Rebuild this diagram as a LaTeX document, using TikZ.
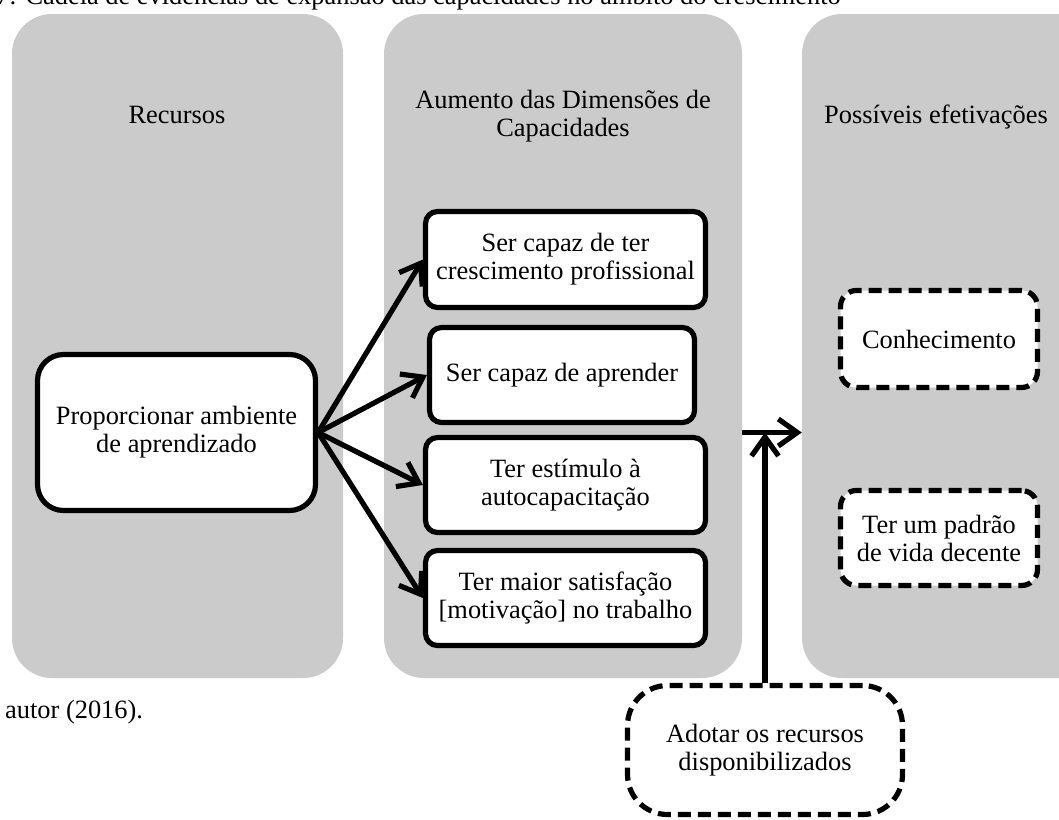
\documentclass[tikz,border=0pt]{standalone}
\usepackage{fontspec}
\setmainfont{Liberation Serif}
\usetikzlibrary{arrows.meta,calc}
\definecolor{panelgray}{RGB}{203,203,203}
\begin{document}
\begin{tikzpicture}[x=1pt,y=-1pt,
  every node/.style={font=\fontsize{26.4pt}{28pt}\selectfont, align=center, inner sep=0pt},
  panel/.style={fill=panelgray, rounded corners=40pt, minimum height=664pt},
  solidbox/.style={draw, fill=white, line width=5.2pt, rounded corners=12pt},
  dashbox/.style={draw, fill=white, line width=5.2pt, dash pattern=on 13pt off 7pt, rounded corners=16pt},
  conn/.style={line width=5.2pt, -{Straight Barb[length=19pt,width=27pt]}},
  title/.style={anchor=base}
]
\useasboundingbox (0,0) rectangle (1059,819);
\clip (0,0) rectangle (1059,819);

% caption line and source line
\node[anchor=base west] (cap) at (-4,5) {7: Cadeia de evidências de expansão das capacidades no âmbito do crescimento};
\node[anchor=base west] (src) at (5,718) {autor (2016).};

% grey columns
\node[panel, minimum width=331pt] (p1) at (177.5,346) {};
\node[panel, minimum width=358pt] (p2) at (563,346) {};
\node[panel, minimum width=300pt] (p3) at (952,346) {};

% column headings
\node[title] (t1) at (177,123) {Recursos};
\node (t2) at (563,116) {Aumento das Dimensões de\\Capacidades};
\node[title] (t3) at (936,123) {Possíveis efetivações};

% resource
\node[solidbox, rounded corners=26pt, minimum width=278pt, minimum height=156pt] (lbox) at (176.5,432.5) {Proporcionar ambiente\\de aprendizado};

% capability dimensions
\node[solidbox, minimum width=280pt, minimum height=96pt] (a) at (565.5,259.5) {Ser capaz de ter\\crescimento profissional};
\node[solidbox, minimum width=265pt, minimum height=95pt] (b) at (562,375) {Ser capaz de aprender};
\node[solidbox, minimum width=280pt, minimum height=95pt] (c) at (565.5,485) {Ter estímulo à\\autocapacitação};
\node[solidbox, minimum width=280pt, minimum height=95pt] (d) at (565.5,598) {Ter maior satisfação\\{[motivação]} no trabalho};

% possible functionings
\node[dashbox, minimum width=197pt, minimum height=97pt] (k1) at (939,339) {Conhecimento};
\node[dashbox, minimum width=197pt, minimum height=95pt] (k2) at (939,538) {Ter um padrão\\de vida decente};

% conversion factor
\node[dashbox, rounded corners=40pt, minimum width=275pt, minimum height=129pt] (adopt) at (765,750) {Adotar os recursos\\disponibilizados};

% connectors
\draw[conn] (lbox.east) -- (a.west);
\draw[conn] (lbox.east) -- (b.west);
\draw[conn] (lbox.east) -- (c.west);
\draw[conn] (lbox.east) -- (d.west);
\draw[conn] (p2.east |- lbox.east) -- (p3.west |- lbox.east);
\coordinate (j) at (adopt.north |- lbox.east);
\draw[conn] (adopt.north) -- (j);
\end{tikzpicture}
\end{document}
